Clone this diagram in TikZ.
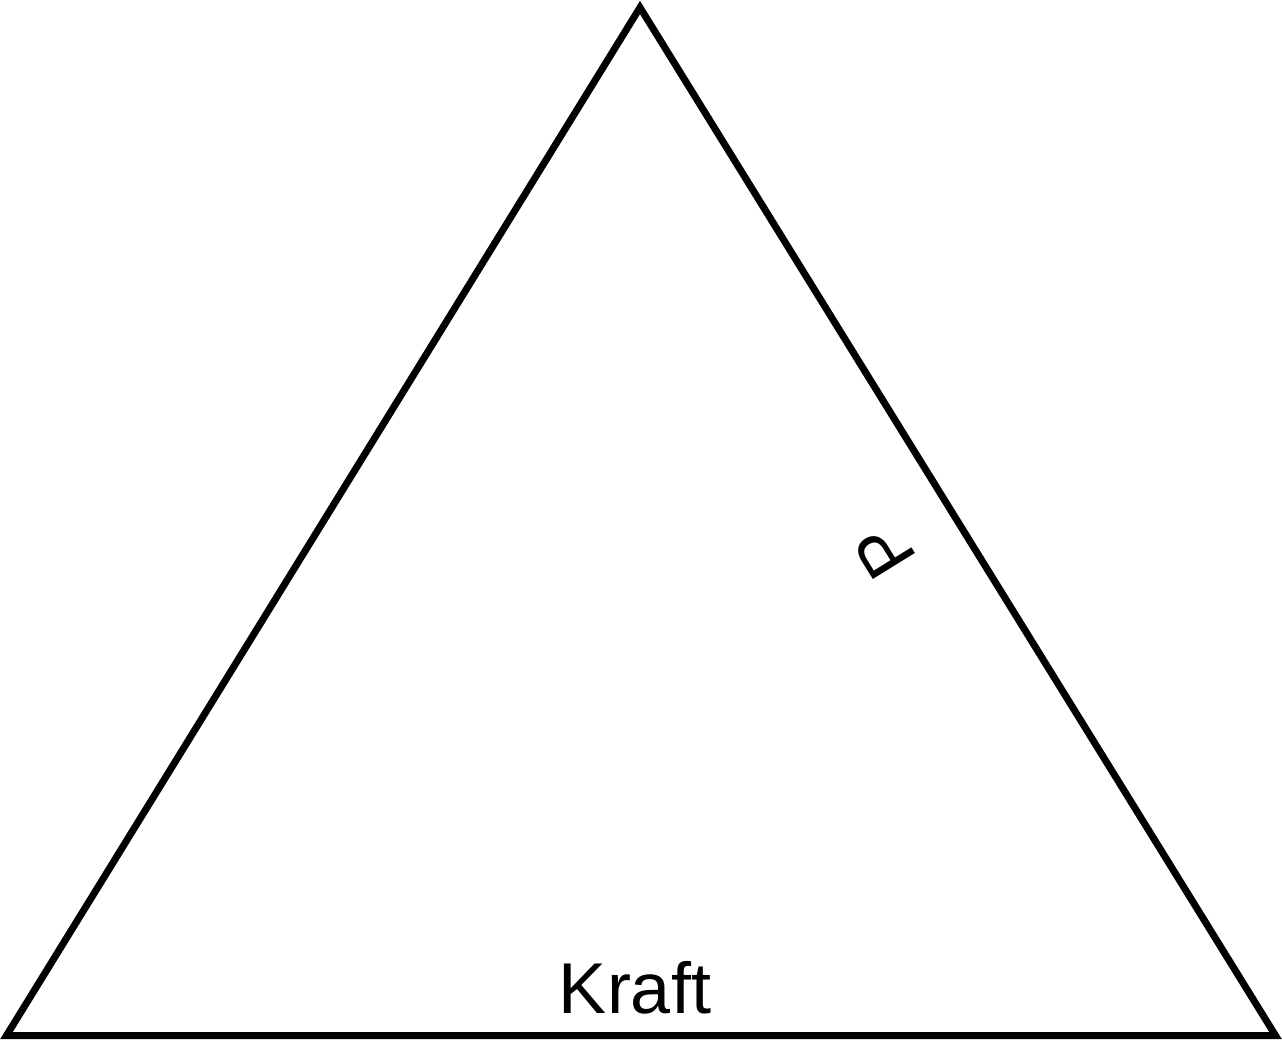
\documentclass[tikz,border=0pt]{standalone}
\usepackage{fontspec}
\setmainfont{Liberation Sans}
\begin{document}
\begin{tikzpicture}[x=1pt,y=-1pt,
  edge/.style={draw=black,line width=7pt,line join=miter},
  lbl/.style={font=\fontsize{72}{86}\selectfont,inner sep=0pt}]
\useasboundingbox (0,0) rectangle (1282,1040);
\coordinate (top) at (640,7.5);
\coordinate (bl) at (6.5,1035.5);
\coordinate (br) at (1275.5,1035.5);
\draw[edge] (top) -- (br) -- (bl) -- cycle;
\node[lbl,anchor=base] (kraft) at (635,1013) {Kraft};
\node[lbl,rotate=121.75] (p) at (885,551) {P};
\end{tikzpicture}
\end{document}
